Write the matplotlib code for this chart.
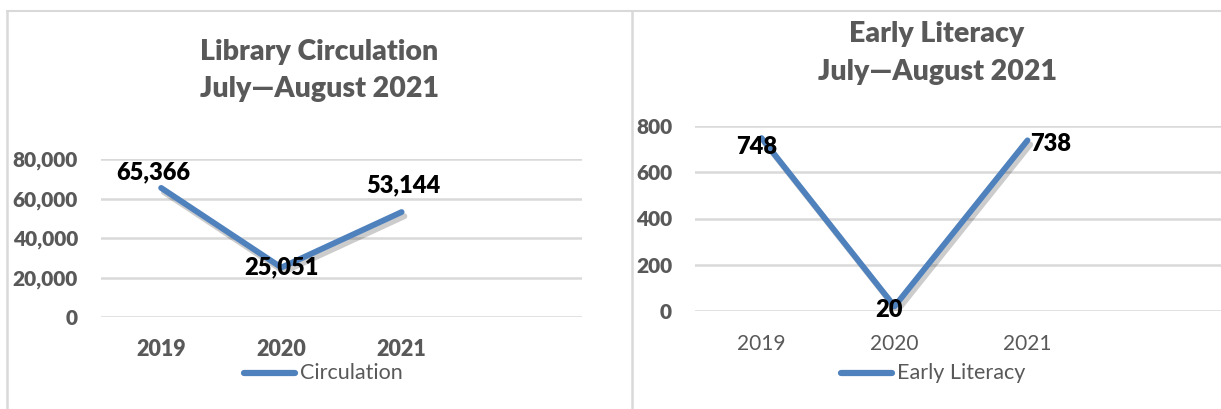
import matplotlib.pyplot as plt
import matplotlib.patheffects as pe
from matplotlib.lines import Line2D

years = ['2019', '2020', '2021']
circulation = [65366, 25051, 53144]
early_literacy = [748, 20, 738]

W, H = 1221, 409
BLUE = '#4F81BD'
GRAY = '#595959'
GRID = '#D9D9D9'
FONT = 'Lato'
HEAVY = 800  # Lato bold looks thin next to the Calibri bold of the original

fig = plt.figure(figsize=(W / 100, H / 100), dpi=100)


def px_axes(x0, y0, x1, y1):
    # pixel box (top-left origin) -> figure axes
    return fig.add_axes([x0 / W, 1 - y1 / H, (x1 - x0) / W, (y1 - y0) / H])


def fx(x):
    return x / W


def fy(y):
    return 1 - y / H


shadow = [pe.SimpleLineShadow(offset=(2, -3), shadow_color='black', alpha=0.2),
          pe.Normal()]


def draw(ax, values, ymax, step, xweight, xsize):
    x = list(range(len(values)))
    ax.plot(x, values, color=BLUE, lw=4.2, solid_capstyle='round',
            solid_joinstyle='round', path_effects=shadow, zorder=3)
    ax.set_xlim(-0.5, 3.5)
    ax.set_ylim(0, ymax)
    ax.set_yticks(range(0, ymax + 1, step))
    ax.set_xticks(x)
    ax.set_xticklabels(years)
    for s in ax.spines.values():
        s.set_visible(False)
    ax.grid(axis='y', color=GRID, lw=1.8)
    ax.set_axisbelow(True)
    ax.tick_params(length=0)
    ax.set_ylim(0, ymax)
    for lab in ax.get_yticklabels():
        lab.set(family=FONT, weight=HEAVY, size=15, color=GRAY)
    for lab in ax.get_xticklabels():
        lab.set(family=FONT, weight=xweight, size=xsize, color=GRAY)


# ---- left: circulation
ax1 = px_axes(101, 159, 582, 317)
ax1.yaxis.set_major_formatter(plt.FuncFormatter(lambda v, p: f'{int(v):,}'))
draw(ax1, circulation, 80000, 20000, HEAVY, 15.5)
ax1.tick_params(axis='y', pad=16.5)
ax1.tick_params(axis='x', pad=16)
lab_kw = dict(family=FONT, weight=HEAVY, size=17, color='black',
              ha='center', va='center', zorder=5)
ax1.annotate(f'{circulation[0]:,}', (0, circulation[0]), xytext=(-8, 16),
             textcoords='offset pixels', **lab_kw)
ax1.annotate(f'{circulation[1]:,}', (1, circulation[1]), xytext=(0, 0),
             textcoords='offset pixels', **lab_kw)
ax1.annotate(f'{circulation[2]:,}', (2, circulation[2]), xytext=(2, 27),
             textcoords='offset pixels', **lab_kw)

# ---- right: early literacy
ax2 = px_axes(695, 126, 1227, 311)
draw(ax2, early_literacy, 800, 200, 'normal', 15)
ax2.tick_params(axis='y', pad=16.5)
ax2.tick_params(axis='x', pad=16.5)
ax2.annotate(str(early_literacy[0]), (0, early_literacy[0]), xytext=(-5, -9),
             textcoords='offset pixels', **lab_kw)
ax2.annotate(str(early_literacy[1]), (1, early_literacy[1]), xytext=(-6, -4),
             textcoords='offset pixels', **lab_kw)
ax2.annotate(str(early_literacy[2]), (2, early_literacy[2]), xytext=(3, -4),
             textcoords='offset pixels', **{**lab_kw, 'ha': 'left'})

# titles
title_kw = dict(family=FONT, weight=HEAVY, size=20.5, color=GRAY,
                ha='center', va='center')
fig.text(fx(319), fy(52), 'Library Circulation', **title_kw)
fig.text(fx(319), fy(89), 'July\u2014August 2021', **title_kw)
fig.text(fx(937), fy(34), 'Early Literacy', **title_kw)
fig.text(fx(937), fy(72), 'July\u2014August 2021', **title_kw)

# legends
for (x0, x1, y, name) in [(244, 295, 373, 'Circulation'), (841, 892, 373, 'Early Literacy')]:
    fig.add_artist(Line2D([fx(x0), fx(x1)], [fy(y), fy(y)], color=BLUE, lw=4.5,
                          solid_capstyle='round'))
    fig.text(fx(x1 + 5), fy(y), name, family=FONT, size=15.5, color=GRAY,
             ha='left', va='center')

# panel borders
fig.add_artist(Line2D([fx(7), 1], [fy(10.5), fy(10.5)], color=GRID, lw=1.5))
fig.add_artist(Line2D([fx(7.5), fx(7.5)], [fy(10.5), 0], color=GRID, lw=1.8))
fig.add_artist(Line2D([fx(631.5), fx(631.5)], [fy(10.5), 0], color=GRID, lw=1.8))

fig.savefig('out.png', dpi=100, facecolor='white')
